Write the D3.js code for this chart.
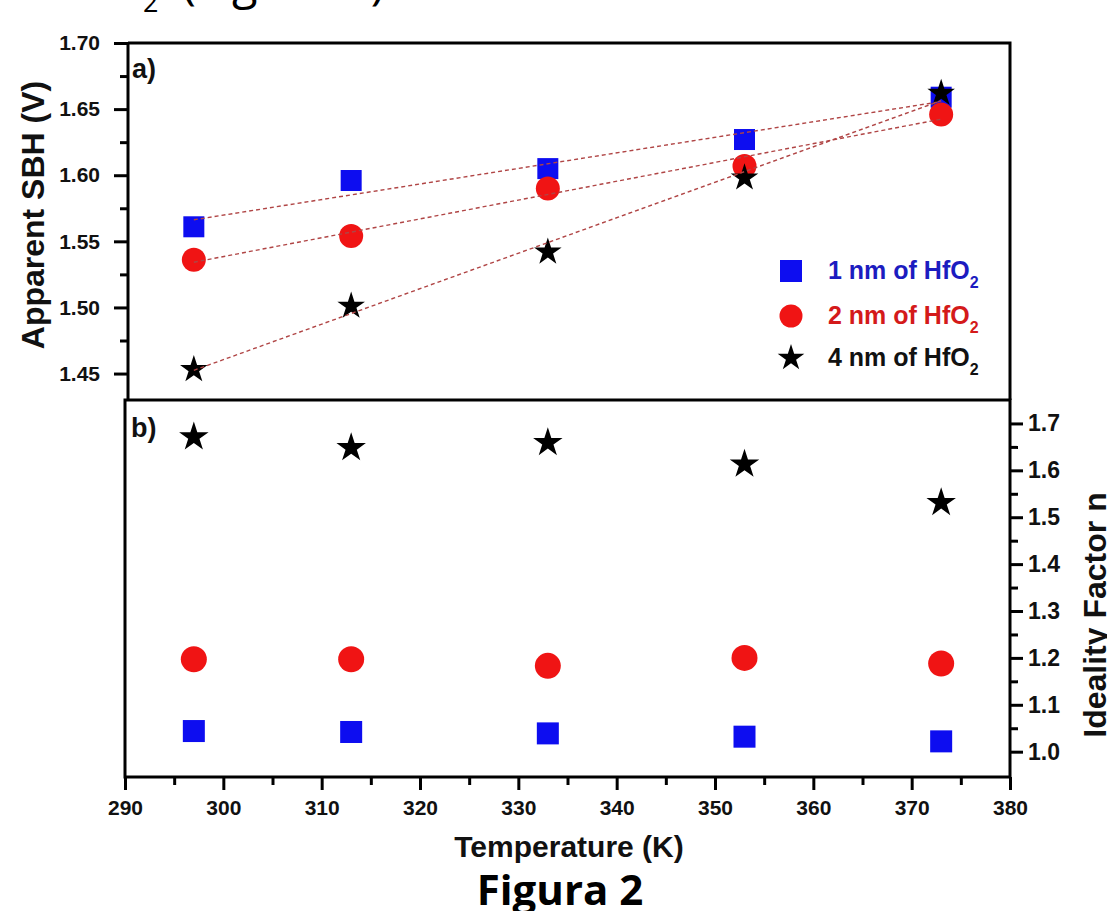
<!DOCTYPE html>
<html><head><meta charset="utf-8">
<script src="https://cdn.jsdelivr.net/npm/d3@7"></script>
<style>body{margin:0;background:#fff} svg{display:block}</style>
</head><body>
<svg id="c" width="1107" height="911"></svg>
<script>
// ---- data ----
const temperatures = [297, 313, 333, 353, 373];
const sbh1nm = [1.561, 1.596, 1.605, 1.627, 1.659];
const sbh2nm = [1.536, 1.554, 1.590, 1.607, 1.646];
const sbh4nm = [1.453, 1.501, 1.542, 1.598, 1.662];
const n1nm = [1.044, 1.042, 1.039, 1.032, 1.022];
const n2nm = [1.197, 1.197, 1.183, 1.200, 1.188];
const n4nm = [1.671, 1.648, 1.659, 1.613, 1.531];
const xTicks = [290, 300, 310, 320, 330, 340, 350, 360, 370, 380];
const xMinor = [295, 305, 315, 325, 335, 345, 355, 365, 375];
const sbhTicks = [1.45, 1.50, 1.55, 1.60, 1.65, 1.70];
const sbhMinor = [1.475, 1.525, 1.575, 1.625, 1.675];
const nTicks = [1.0, 1.1, 1.2, 1.3, 1.4, 1.5, 1.6, 1.7];
const nMinor = [1.05, 1.15, 1.25, 1.35, 1.45, 1.55, 1.65];
const seriesLabels = ["1 nm of HfO", "2 nm of HfO", "4 nm of HfO"];

const svg = d3.select("#c");
const FONT = "'Liberation Sans', Arial, Helvetica, sans-serif";
svg.append("rect").attr("width", 1107).attr("height", 911).attr("fill", "#fff");

const colors = ["#0d0df0", "#f01414", "#000000"];
const textColors = ["#1c1cc0", "#d41a1a", "#111111"];

const x = d3.scaleLinear().domain([290, 380]).range([125, 1010]);
const yTop = d3.scaleLinear().domain([1.430, 1.70]).range([400, 43]);
const yBot = d3.scaleLinear().domain([0.946, 1.75]).range([777, 400]);

function styleAxis(g, fs) {
  g.select(".domain").remove();
  g.selectAll(".tick line").attr("stroke", "#000").attr("stroke-width", 3);
  g.selectAll(".tick text").attr("fill", "#111").attr("font-family", FONT)
    .attr("font-weight", "bold").attr("font-size", fs);
}

// --- top panel ---
const topLeft = 128;
svg.append("g").attr("transform", `translate(${topLeft},0)`)
  .call(d3.axisLeft(yTop).tickValues(sbhTicks).tickSize(14).tickPadding(14).tickFormat(d3.format(".2f")))
  .call(g => styleAxis(g, 21));
svg.append("g").attr("transform", `translate(${topLeft},0)`)
  .call(d3.axisLeft(yTop).tickValues(sbhMinor).tickSize(8).tickFormat(""))
  .call(g => styleAxis(g, 21));

// --- bottom panel axes ---
svg.append("g").attr("transform", `translate(0,777)`)
  .call(d3.axisBottom(x).tickValues(xTicks).tickSize(13).tickPadding(10).tickFormat(d3.format("d")))
  .call(g => styleAxis(g, 21));
svg.append("g").attr("transform", `translate(0,777)`)
  .call(d3.axisBottom(x).tickValues(xMinor).tickSize(8).tickFormat(""))
  .call(g => styleAxis(g, 21));
svg.append("g").attr("transform", `translate(1010,0)`)
  .call(d3.axisRight(yBot).tickValues(nTicks).tickSize(13).tickPadding(5).tickFormat(d3.format(".1f")))
  .call(g => styleAxis(g, 23));
svg.append("g").attr("transform", `translate(1010,0)`)
  .call(d3.axisRight(yBot).tickValues(nMinor).tickSize(8).tickFormat(""))
  .call(g => styleAxis(g, 23));

// frames
const frame = svg.append("g").attr("fill", "none").attr("stroke", "#000").attr("stroke-width", 3);
frame.append("path").attr("d", `M${topLeft},${yTop(1.70)}H1010V400`);
frame.append("line").attr("x1", topLeft).attr("x2", topLeft).attr("y1", yTop(1.70)).attr("y2", 400);
frame.append("rect").attr("x", x(290)).attr("y", 400).attr("width", x(380) - x(290)).attr("height", 377);

// markers
function drawSeries(ys, yScale, idx, sizes) {
  const g = svg.append("g");
  temperatures.forEach((t, i) => {
    const cx = x(t), cy = yScale(ys[i]);
    if (idx === 0) {
      g.append("rect").attr("x", cx - sizes.sq / 2).attr("y", cy - sizes.sq / 2)
        .attr("width", sizes.sq).attr("height", sizes.sq).attr("fill", colors[0]);
    } else if (idx === 1) {
      g.append("circle").attr("cx", cx).attr("cy", cy).attr("r", sizes.r).attr("fill", colors[1]);
    } else {
      g.append("path").attr("transform", `translate(${cx},${cy})`)
        .attr("d", d3.symbol(d3.symbolStar, sizes.star * sizes.star / 0.8908130915)())
        .attr("fill", colors[2]);
    }
  });
}
const topSizes = {sq: 21, r: 12, star: 14.5};
const botSizes = {sq: 22, r: 13, star: 15.5};
[sbh1nm, sbh2nm, sbh4nm].forEach((ys, i) => drawSeries(ys, yTop, i, topSizes));
[n1nm, n2nm, n4nm].forEach((ys, i) => drawSeries(ys, yBot, i, botSizes));

// linear fits (least squares over the plotted points)
function fit(xs, ys) {
  const mx = d3.mean(xs), my = d3.mean(ys);
  const b = d3.sum(xs, (v, i) => (v - mx) * (ys[i] - my)) / d3.sum(xs, v => (v - mx) * (v - mx));
  return v => my + b * (v - mx);
}
const tMin = d3.min(temperatures), tMax = d3.max(temperatures);
[sbh1nm, sbh2nm, sbh4nm].forEach(ys => {
  const f = fit(temperatures, ys);
  svg.append("line").attr("x1", x(tMin)).attr("y1", yTop(f(tMin)))
    .attr("x2", x(tMax)).attr("y2", yTop(f(tMax)))
    .attr("stroke", "#b04545").attr("stroke-width", 1.4).attr("stroke-dasharray", "4,3");
});

// legend
const legY = [271, 316, 358];
const lg = svg.append("g");
legY.forEach((ly, i) => {
  const lx = 791;
  if (i === 0) lg.append("rect").attr("x", lx - 11).attr("y", ly - 11).attr("width", 22).attr("height", 22).attr("fill", colors[0]);
  else if (i === 1) lg.append("circle").attr("cx", lx).attr("cy", ly).attr("r", 11.5).attr("fill", colors[1]);
  else lg.append("path").attr("transform", `translate(${lx},${ly})`)
    .attr("d", d3.symbol(d3.symbolStar, 14 * 14 / 0.8908130915)()).attr("fill", colors[2]);
  const t = lg.append("text").attr("x", 828).attr("y", ly + 8)
    .attr("font-family", FONT).attr("font-weight", "bold").attr("font-size", 25)
    .attr("fill", textColors[i]);
  t.append("tspan").text(seriesLabels[i]);
  t.append("tspan").attr("dy", 9).attr("font-size", 16).text("2");
});

// panel tags
svg.append("text").attr("x", 132).attr("y", 78).attr("font-family", FONT).attr("font-weight", "bold")
  .attr("font-size", 27).attr("fill", "#111").text("a)");
svg.append("text").attr("x", 131).attr("y", 437).attr("font-family", FONT).attr("font-weight", "bold")
  .attr("font-size", 27).attr("fill", "#111").text("b)");

// axis titles
svg.append("text").attr("transform", "translate(44,215) rotate(-90)").attr("text-anchor", "middle")
  .attr("font-family", FONT).attr("font-weight", "bold").attr("font-size", 32).attr("fill", "#111")
  .text("Apparent SBH (V)");
svg.append("text").attr("transform", "translate(1106,615) rotate(-90)").attr("text-anchor", "middle")
  .attr("font-family", FONT).attr("font-weight", "bold").attr("font-size", 32).attr("fill", "#111")
  .text("Ideality Factor n");
svg.append("text").attr("x", 569).attr("y", 857).attr("text-anchor", "middle")
  .attr("font-family", FONT).attr("font-weight", "bold").attr("font-size", 30).attr("fill", "#111")
  .text("Temperature (K)");

// document caption text (partially outside the page, as in the source scan)
svg.append("text").attr("x", 560).attr("y", 905).attr("text-anchor", "middle")
  .attr("font-family", "'Open Sans', 'Noto Sans', sans-serif").attr("font-weight", "bold")
  .attr("font-size", 42).attr("fill", "#000").text("Figura 2");
svg.append("text").attr("x", 143).attr("y", 12)
  .attr("font-family", "'Open Sans', 'Noto Sans', sans-serif").attr("font-size", 27).attr("fill", "#000").text("2");
svg.append("text").attr("x", 182).attr("y", -1)
  .attr("font-family", "'Open Sans', 'Noto Sans', sans-serif").attr("font-size", 47).attr("fill", "#000").text("(Figura 1)");
</script>
</body></html>
